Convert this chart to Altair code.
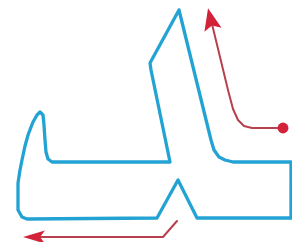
import altair as alt
import pandas as pd

# Outline of the letter (page pixel coordinates)
outline_x = [179, 195, 211, 214, 219, 225, 233, 291, 291, 197, 178, 157,
             27, 22, 18, 18, 18, 20, 22, 25, 28, 33, 37, 40, 43, 44, 45, 46, 48, 52,
             170, 151, 150, 179]
outline_y = [10, 75, 140, 150, 157, 160, 162, 162, 218, 218, 180, 218,
             219, 217, 210, 195, 183, 170, 160, 146, 135, 122, 115, 112, 115, 125, 140, 152, 159, 162,
             162, 70, 63, 10]

# Upper red stroke (from dot up to arrow)
up_x = [283, 252, 244, 238, 233, 228, 212]
up_y = [128, 128, 126, 120, 109, 90, 24]

# Lower red stroke
low_x = [177, 163, 35]
low_y = [221, 237, 237]

# Arrow heads and dot
head_x = [210.5, 34]
head_y = [19, 237]
head_shape = ["M0,-1L0.8,1L0,0.6L-0.8,1Z", "M-1,0L1,-0.6L0.55,0L1,0.6Z"]
head_angle = [347, 0]
dot_x = [283]
dot_y = [128]

xs = alt.Scale(domain=[8, 292], nice=False, zero=False)
ys = alt.Scale(domain=[8, 242], nice=False, zero=False, reverse=True)

blue = "#23a3d3"
red = "#d3233a"

outline = pd.DataFrame({"x": outline_x, "y": outline_y, "i": range(len(outline_x))})
up = pd.DataFrame({"x": up_x, "y": up_y, "i": range(len(up_x))})
low = pd.DataFrame({"x": low_x, "y": low_y, "i": range(len(low_x))})
heads = pd.DataFrame({"x": head_x, "y": head_y, "shape": head_shape, "angle": head_angle})
dots = pd.DataFrame({"x": dot_x, "y": dot_y})

def enc(ch):
    return ch.encode(
        x=alt.X("x:Q", scale=xs, axis=None),
        y=alt.Y("y:Q", scale=ys, axis=None),
        order="i:Q",
    )

l1 = enc(alt.Chart(outline).mark_line(color=blue, strokeWidth=3.3, strokeJoin="round", strokeCap="round", clip=False))
l2 = enc(alt.Chart(up).mark_line(color="#b8404e", strokeWidth=2, strokeJoin="round", strokeCap="round", clip=False))
l3 = enc(alt.Chart(low).mark_line(color="#b8404e", strokeWidth=2, strokeJoin="round", strokeCap="round", clip=False))

h = alt.Chart(heads).mark_point(filled=True, color=red, opacity=1, size=480, clip=False).encode(
    x=alt.X("x:Q", scale=xs, axis=None),
    y=alt.Y("y:Q", scale=ys, axis=None),
    shape=alt.Shape("shape:N", scale=None),
    angle=alt.Angle("angle:Q", scale=None),
)
d = alt.Chart(dots).mark_point(filled=True, color=red, opacity=1, size=120, shape="circle", clip=False).encode(
    x=alt.X("x:Q", scale=xs, axis=None),
    y=alt.Y("y:Q", scale=ys, axis=None),
)

chart = alt.layer(l1, l2, l3, h, d).properties(
    width=284, height=234, padding=0, autosize="none", background="white"
).configure_view(stroke=None)

chart.save("out.html", embed_options={"renderer": "svg", "actions": False})
